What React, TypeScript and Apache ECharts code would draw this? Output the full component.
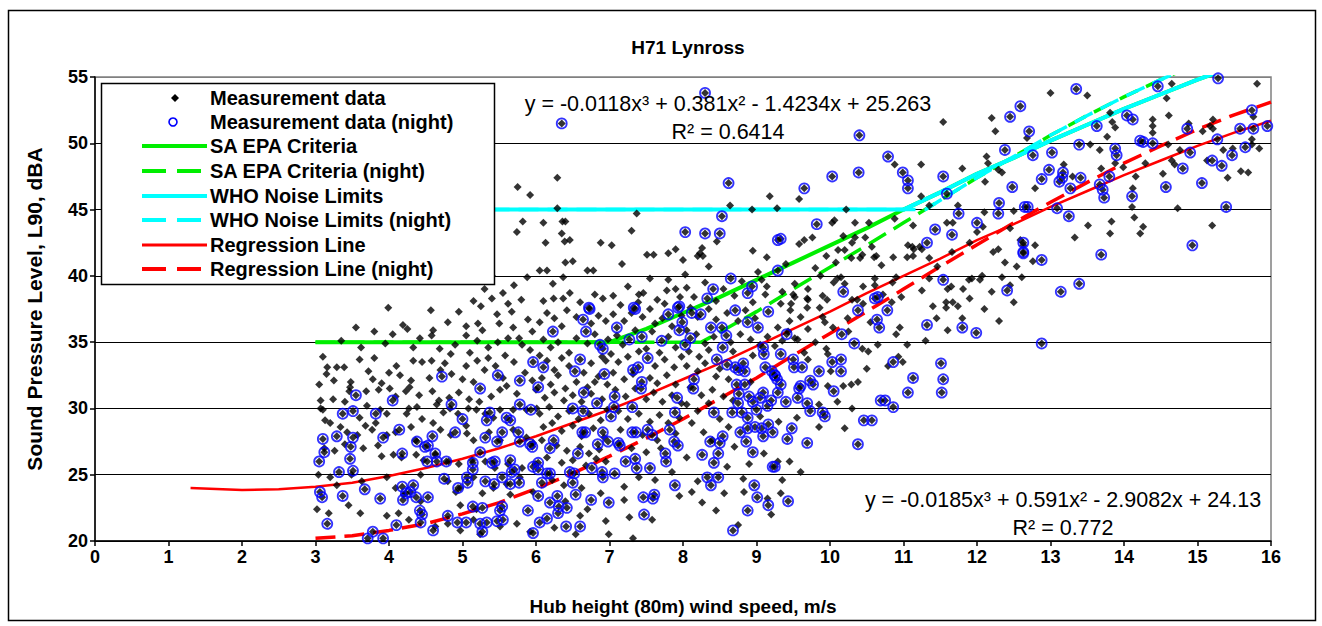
import React, { useEffect, useRef } from "react";
import * as echarts from "echarts";

const FONT = '"Liberation Sans", Arial, sans-serif';

const xMin = 0, xMax = 16, xStep = 1;
const yMin = 20, yMax = 55, yStep = 5;

// Night measurement points (blue circles; also plotted as black diamonds)
const nightPts: number[][] = [
  [4.72,32.4],[5.48,32.5],[5.78,32.1],[5.96,33.5],[3.55,31.0],[4.05,30.6],[4.85,30.3],[5.0,29.2],
  [3.51,29.8],[3.37,29.6],[3.82,29.6],[3.10,27.7],[3.29,27.9],[3.51,27.8],[3.48,27.1],[3.12,26.7],[3.05,26.0],
  [3.32,25.2],[3.51,25.3],[3.47,26.2],[3.06,23.7],[3.09,23.3],[3.37,23.4],[3.16,21.3],[4.14,28.4],[3.92,27.8],
  [4.18,26.6],[4.38,27.5],[4.49,27.1],[4.53,27.2],[4.59,27.9],[4.63,26.6],[4.90,28.2],[4.52,26.0],[4.65,26.0],
  [4.78,26.0],[4.75,24.7],[3.67,23.9],[3.88,23.2],[4.18,24.1],[4.33,24.2],[4.23,23.6],[4.19,23.1],[4.37,23.3],
  [4.29,23.7],[4.53,23.3],[4.42,22.3],[4.45,22.0],[4.43,21.4],[4.6,20.8],[4.1,21.2],[3.78,20.7],[3.71,20.2],
  [3.92,20.2],[4.8,21.9],[4.93,21.4],[5.05,21.4],[4.94,24.0],[5.06,24.8],[5.07,24.4],[5.14,25.9],[5.14,25.4],
  [5.24,26.7],[5.31,27.8],[5.33,29.1],[5.37,29.7],[5.54,28.2],[5.6,29.3],[5.65,29.1],[5.47,27.5],[5.44,26.0],
  [5.65,26.1],[5.71,25.4],[5.67,25.2],[5.4,25.9],[5.31,24.5],[5.43,24.3],[5.54,24.8],[5.65,24.3],[5.77,24.4],
  [5.14,22.6],[5.27,22.5],[5.54,22.6],[5.51,22.3],[5.24,21.3],[5.27,20.7],[5.33,21.4],[5.47,21.5],[5.55,21.6],
  [5.76,28.2],[5.78,27.5],[5.92,27.3],[5.95,27.1],[5.78,30.3],[5.93,29.9],[5.24,31.5],[5.96,25.6],[5.89,22.3],
  [5.96,20.6],[6.35,51.5],[8.3,53.8],
  [8.03,43.3],[8.3,43.2],[8.5,43.2],[8.53,44.5],[8.62,47.0],[9.29,42.7],[8.65,39.8],[8.41,39.0],[8.33,38.3],
  [8.94,39.2],[8.88,38.7],[6.72,37.6],[7.33,37.6],[7.95,37.7],
  [6.73,37.5],[6.64,36.7],[6.68,35.8],[6.23,35.8],[7.1,36.1],[6.87,34.8],[6.91,34.5],[7.35,37.5],[7.27,35.2],
  [7.44,35.4],[7.71,35.1],[7.93,37.6],[8.12,37.2],[8.24,37.1],[7.95,35.9],[7.99,36.5],[7.8,37.1],[8.38,36.1],
  [8.53,36.1],[8.59,35.5],[8.1,35.3],[8.03,34.8],[8.54,34.6],[8.71,37.4],[8.88,36.5],[9.02,36.1],[9.16,37.3],
  [9.09,34.6],[9.1,34.1],[6.6,33.7],[6.1,33.1],[6.53,32.8],[6.93,32.6],[7.52,33.8],[7.32,32.9],[7.39,33.1],
  [8.46,33.7],[8.6,33.3],[8.71,33.1],[8.76,32.9],[8.82,33.4],[8.84,32.8],[9.12,33.1],[9.25,32.5],[9.21,32.8],
  [9.28,32.2],[6.03,31.6],[6.65,31.2],[7.44,32.0],[7.43,31.5],[8.15,32.2],[8.14,31.5],[8.73,31.8],[8.84,31.8],
  [8.76,31.1],[7.92,30.8],[9.09,31.2],[6.5,30.0],[6.64,29.8],[6.83,30.4],[7.07,30.9],[7.06,30.1],[7.02,29.4],
  [7.31,30.1],[7.89,29.7],[8.42,29.7],[8.67,29.7],[8.8,29.7],[8.88,29.3],[8.95,30.5],[9.05,30.8],[9.15,30.2],
  [8.9,30.9],[9.2,30.6],[8.75,30.4],[9.0,29.9],
  [6.63,28.2],[6.67,28.2],[6.91,28.2],[6.24,27.6],[6.19,27.0],[6.84,27.3],[6.98,27.5],[7.12,27.4],[7.14,27.2],
  [7.31,28.2],[7.36,28.2],[7.52,28.4],[7.58,28.0],[7.82,28.4],[7.88,27.5],[7.93,27.2],[6.57,26.6],[7.22,26.0],
  [7.35,26.2],[7.37,25.5],[7.76,26.6],[7.77,26.0],[7.55,25.5],[6.03,25.9],[6.03,25.4],[6.19,25.1],[6.15,25.1],
  [6.46,25.2],[6.52,25.1],[6.76,25.5],[6.9,25.2],[6.91,24.8],[7.07,25.1],[6.08,24.4],[6.5,24.4],[6.29,23.4],
  [6.03,23.4],[6.19,22.9],[6.31,22.6],[6.42,22.5],[6.3,22.1],[6.75,23.1],[6.99,22.9],[6.54,23.5],[7.46,23.3],
  [7.59,23.2],[7.61,23.5],[7.47,22.0],[6.41,21.1],[6.6,21.1],[6.15,21.7],[6.05,21.4],[7.89,24.2],[8.26,26.5],
  [8.37,27.5],[8.5,27.4],[8.54,27.9],[8.48,26.6],[8.42,25.9],[8.33,24.8],[8.38,24.2],[8.48,24.8],[8.78,28.2],
  [8.88,28.5],[8.98,28.6],[9.07,28.5],[9.16,28.8],[9.22,28.2],[8.86,27.5],[8.95,26.7],[9.09,27.9],[9.22,25.6],
  [8.97,24.2],[9.01,23.3],[9.16,22.7],[8.88,22.3],[8.68,20.8],
  [10.79,49.0],[12.38,49.5],[11.54,47.5],[10.99,47.8],[11.06,47.2],[11.06,46.6],[12.48,46.7],[10.03,47.5],
  [10.39,47.8],[9.65,46.6],[11.59,46.2],[12.3,45.5],[12.29,44.7],[11.75,44.7],[12.0,44.0],[12.65,45.2],
  [9.82,43.9],[11.43,43.5],[11.66,43.1],[9.33,42.8],[11.32,42.5],[12.63,42.5],[12.63,41.8],[9.29,40.4],
  [10.4,50.6],[12.45,52.0],
  [10.18,38.8],[10.61,38.3],[10.65,38.4],[10.78,37.4],[10.38,37.4],[10.64,36.7],[10.67,36.1],[9.41,35.6],
  [10.16,35.6],[10.33,34.9],[11.32,36.3],[11.8,36.1],[11.99,35.7],[11.54,39.7],[12.41,38.9],[9.33,34.1],
  [9.5,33.7],[9.51,33.1],[9.62,33.1],[10.03,33.5],[10.15,33.7],[9.85,32.8],[10.15,32.8],[9.73,32.1],[9.77,31.8],
  [10.05,31.3],[9.25,32.5],[9.33,31.8],[9.29,31.2],[9.58,31.5],[9.6,31.7],[9.56,30.8],[9.69,30.4],[9.4,30.5],
  [10.86,33.5],[11.13,32.3],[11.06,31.2],[10.69,30.6],[10.75,30.6],[10.86,30.1],[11.51,33.4],[11.54,32.2],
  [11.52,31.2],
  [9.73,29.8],[9.9,29.7],[9.93,29.4],[10.46,29.1],[10.57,29.1],[9.48,28.5],[9.42,27.7],[9.69,27.4],[10.38,27.3],
  [9.25,25.6],[9.43,23.0],
  [15.28,54.9],[14.46,54.3],[13.35,54.1],[14.04,52.1],[14.12,51.8],[13.63,51.3],[12.71,50.9],[12.59,52.8],
  [13.39,49.9],[14.22,50.2],[14.26,50.1],[14.39,50.0],[14.86,51.1],[15.27,50.3],[15.58,51.1],[15.74,52.5],
  [15.76,51.1],[15.95,51.3],[15.65,49.7],[12.76,49.1],[13.02,49.3],[13.88,49.6],[13.9,49.1],[12.98,48.0],
  [13.17,47.8],[13.16,47.4],[13.12,47.1],[12.88,47.3],[13.41,47.4],[13.27,46.6],[13.8,47.5],[13.67,46.9],
  [13.71,46.5],[13.73,45.9],[14.11,46.0],[14.57,46.7],[14.8,48.1],[14.9,49.3],[15.06,47.0],[15.2,48.7],
  [15.33,48.3],[15.47,49.1],
  [12.69,45.2],[13.09,45.1],[13.25,44.5],[15.39,45.2],[14.93,42.3],[12.63,41.7],[12.88,41.2],[13.69,41.6],
  [13.39,39.4],[13.14,38.8],[12.88,34.9]
];

// Day-only measurement points (black diamonds)
const dayPts: number[][] = [
  [3.99,37.6],[4.57,37.4],[4.19,36.3],[3.62,34.6],[3.10,33.9],[3.16,33.1],[3.29,33.1],[3.39,33.1],[3.6,33.7],
  [3.72,32.8],[4.42,35.3],[4.58,35.5],[4.33,34.6],[4.69,34.5],[4.84,34.1],[4.33,33.6],[4.45,33.5],[4.58,33.6],
  [4.76,33.4],[4.1,33.2],[4.0,32.7],[5.25,37.7],[5.40,38.3],[5.47,37.1],[5.62,37.9],[5.67,37.3],[5.50,36.4],
  [5.21,36.4],[5.27,35.9],[5.69,36.1],[5.89,36.7],[5.95,35.8],[5.2,35.1],[5.62,35.3],[5.77,35.3],[5.81,34.8],
  [5.75,46.7],[5.92,46.1],[6.29,47.4],[6.29,45.1],[5.82,44.1],[5.74,43.3],[6.1,44.0],[6.36,44.1],[6.4,44.1],
  [6.35,43.2],[6.13,42.5],[6.39,42.6],[6.46,42.7],[6.05,40.4],[6.15,40.4],[5.88,39.9],[6.23,39.4],[6.4,41.0],
  [6.5,41.1],[6.7,40.4],[6.88,42.5],[7.03,42.3],[7.3,43.4],[7.37,44.7],[7.17,40.9],[7.51,41.6],[5.4,40.0],
  [6.46,38.7],[6.1,38.1],[6.24,38.3],[6.37,38.3],[6.8,38.6],[6.91,38.3],[7.46,38.7],[7.39,38.0],[7.6,41.6],
  [7.8,41.7],[7.9,42.0],[8.0,41.2],[8.03,40.1],[8.26,42.1],[8.23,41.7],[8.2,41.5],[8.27,41.5],[8.35,40.7],
  [8.46,42.6],[8.64,45.3],[8.94,45.0],[9.18,46.0],[9.28,45.1],[8.95,41.9],[9.14,41.4],[9.07,39.7],[9.14,39.2],
  [7.8,39.7],[7.78,38.9],[7.96,38.4],[6.78,40.4],[6.37,39.9],
  [10.88,48.4],[11.24,48.4],[11.8,48.1],[12.13,49.0],[12.15,48.5],[12.29,48.0],[12.34,47.8],[12.11,47.1],
  [9.58,45.8],[11.24,46.0],[10.22,45.0],[11.35,45.3],[11.74,45.3],[12.08,43.7],[10.03,44.0],[10.06,44.2],
  [10.34,44.0],[10.53,44.0],[10.88,44.3],[11.13,43.8],[11.59,44.0],[11.67,44.0],[9.58,42.4],[9.65,42.7],
  [9.76,42.9],[10.18,43.0],[10.34,42.9],[10.48,42.9],[10.3,42.5],[10.11,41.95],[10.2,41.95],[10.29,41.35],
  [10.41,41.35],[10.44,41.6],[10.08,41.0],[10.57,42.2],[10.6,41.4],[10.63,41.5],[10.86,41.4],[11.06,42.3],
  [11.12,42.2],[11.14,42.0],[11.25,42.0],[11.22,42.2],[11.05,41.4],[11.13,41.5],[11.35,41.35],[11.46,40.7],
  [11.66,41.8],[12.22,41.8],[12.29,42.0],[12.38,41.0],[12.54,40.7],[12.07,40.0],[11.93,39.8],[10.9,39.9],
  [11.35,39.8],[10.15,39.9],[9.87,40.0],
  [9.52,39.4],[10.05,39.5],[10.2,39.4],[10.1,39.8],[10.61,39.8],[10.61,39.3],[9.5,38.6],[9.52,38.4],[9.69,38.3],
  [9.7,38.2],[9.9,38.5],[9.96,38.2],[9.33,37.9],[9.47,37.9],[9.46,37.4],[9.69,37.6],[9.86,37.6],[10.3,38.2],
  [10.45,37.9],[10.37,38.2],[10.72,38.6],[10.84,38.0],[10.97,38.4],[10.24,36.8],[10.95,36.1],[9.93,36.5],
  [10.04,36.1],[9.7,36.0],[9.29,36.1],[9.43,35.8],[9.52,35.3],[9.56,35.2],[10.44,34.5],[10.52,34.3],[11.4,37.7],
  [11.58,37.6],[11.67,38.0],[11.58,38.0],[11.74,37.7],[11.65,39.2],[11.6,39.0],[11.81,39.0],[11.89,39.7],
  [12.04,39.7],[12.34,39.9],[9.65,34.2],[9.7,33.7],[9.97,34.1],[10.01,32.8],[9.97,31.7],[10.18,31.7],
  [10.29,31.8],[10.38,32.0],[10.79,33.2],[10.93,33.9],[10.99,33.5],[9.29,26.0],[9.33,23.6],
  [15.81,54.5],[14.65,54.5],[13.0,53.8],[13.5,53.6],[14.58,53.4],[13.81,52.3],[13.84,51.6],[13.88,51.2],
  [13.77,50.5],[14.61,52.1],[14.39,51.8],[14.39,51.3],[14.39,50.8],[12.68,50.4],[13.54,49.9],[14.6,49.9],
  [14.88,51.5],[15.07,50.9],[15.21,51.8],[15.17,51.3],[15.21,51.1],[15.76,52.0],[15.74,50.3],[15.74,49.9],
  [15.84,49.6],[13.67,49.5],[13.88,48.5],[13.99,48.2],[13.69,48.1],[12.79,46.6],[13.18,48.4],[13.3,47.5],
  [14.16,47.5],[14.12,46.6],[14.29,48.5],[14.53,47.7],[14.65,48.7],[14.69,48.4],[14.76,49.5],[15.13,48.7],
  [15.35,49.5],[15.41,47.4],[15.59,47.9],[15.69,47.8],[15.48,49.6],
  [14.11,45.2],[14.14,44.4],[14.73,45.1],[13.51,43.8],[13.83,44.1],[13.81,43.2],[13.33,42.9],[14.26,43.7],
  [14.22,43.2],[15.2,43.8],[12.59,42.7],[12.63,42.3],[12.79,42.3],[12.76,41.1],[12.61,39.9],
  [11.54,51.6],[12.2,51.9],[12.25,50.9],
  [3.07,30.6],[3.24,30.7],[3.46,31.3],[3.47,31.6],[3.69,31.3],[3.86,31.4],[4.01,31.5],[4.09,30.9],[4.23,31.3],
  [4.28,31.6],[4.41,31.0],[4.59,31.3],[4.68,30.6],[4.82,30.8],[4.95,31.2],[5.09,30.7],[5.23,30.5],[5.39,30.9],
  [5.51,31.4],[5.6,31.7],[5.74,31.1],[6.0,31.4],
  [3.07,30.0],[3.1,29.9],[3.7,30.2],[3.88,29.9],[3.97,29.6],[4.24,29.6],[4.27,30.0],[4.38,30.1],[4.65,30.3],
  [4.74,29.7],[4.83,30.0],[4.94,29.6],[5.08,30.0],[5.19,29.9],[5.31,29.6],[5.51,29.9],[5.69,29.9],[5.87,29.9],
  [6.01,30.0],
  [3.13,29.1],[3.2,28.9],[3.34,28.6],[3.43,28.2],[3.57,28.0],[3.68,28.7],[3.77,28.4],[3.97,28.0],[4.09,28.2],
  [4.3,28.6],[4.36,27.6],[4.7,28.4],[4.84,28.0],[5.06,28.1],[5.15,27.6],[5.36,28.2],[5.51,27.6],[5.69,28.4],
  [5.87,27.8],[5.96,27.4],
  [3.12,27.0],[3.26,26.8],[3.4,27.3],[3.65,27.0],[3.85,27.2],[3.9,26.4],[4.06,26.5],[4.17,26.3],[4.37,26.5],
  [4.47,26.1],[4.63,26.5],[4.81,26.0],[4.95,25.8],[5.13,26.1],[5.31,26.0],[5.44,25.5],[5.62,25.8],[5.81,25.5],
  [5.99,25.8],
  [3.04,25.0],[3.2,24.8],[3.29,24.2],[3.49,25.0],[3.63,24.5],[3.97,24.8],[4.09,24.0],[4.2,23.5],[4.43,25.0],
  [4.8,24.5],[4.91,23.7],[4.97,24.0],[5.15,24.8],[5.27,23.6],[5.42,24.0],[5.6,24.3],[5.78,24.8],[5.96,23.7],
  [5.65,23.5],
  [3.02,22.4],[3.18,22.1],[3.45,22.7],[3.61,22.1],[3.97,21.9],[4.13,22.1],[4.27,21.6],[4.63,21.1],[4.8,21.3],
  [4.97,20.8],[5.15,21.6],[5.24,20.5],[5.51,21.1],[5.74,21.3],[5.92,20.7],[5.19,22.4],[4.97,22.7],[4.43,23.0],
  [3.48,32.0],[3.78,32.2],[3.9,31.9],[4.15,32.5],[4.3,32.1],[4.55,32.3],[4.85,32.6],[5.0,32.2],[5.05,33.2],
  [5.15,32.0],[5.3,32.9],[5.35,33.8],[5.45,33.2],[5.55,32.3],[5.7,33.5],[5.85,32.7],[5.95,32.1],[3.25,32.1],
  [3.05,31.8],[4.9,34.8],[5.05,35.5],[5.1,34.2],[5.35,34.6],[5.48,35.0],[5.58,34.0],[5.92,34.4],[3.8,33.8],
  [3.95,34.9],[4.05,35.6],[4.25,36.0],[3.35,35.1],[3.55,36.1],[4.8,36.5],[4.95,37.3],[4.6,35.9],[5.05,36.2],
  [3.8,35.8],[3.15,32.6],[4.7,32.9],[5.2,33.6],[3.4,30.5],[3.6,29.3],[3.82,28.9],[4.45,29.2],[4.6,28.9],
  [5.42,29.3],[5.05,28.7],[5.3,39.0],[5.55,38.7],[5.8,38.2],[5.15,38.1],[5.7,39.3],
  [6.05,36.5],[6.15,37.2],[6.25,36.8],[6.35,36.2],[6.42,37.4],[6.55,36.9],[6.6,38.0],[6.75,36.4],[6.85,37.0],
  [6.95,36.6],[6.1,35.2],[6.2,34.6],[6.3,35.0],[6.45,34.2],[6.55,35.3],[6.7,34.9],[6.8,35.6],[6.9,33.9],
  [6.98,35.2],[6.05,34.0],[6.15,33.6],[6.25,32.9],[6.35,33.8],[6.45,33.2],[6.65,32.7],[6.75,33.4],[6.85,32.4],
  [6.95,33.6],[6.08,32.3],[6.2,31.8],[6.3,32.5],[6.4,31.5],[6.55,32.0],[6.7,31.6],[6.8,32.0],[6.97,31.8],
  [6.12,30.8],[6.25,31.2],[6.38,30.6],[6.5,31.0],[6.62,30.5],[6.75,31.1],[6.9,30.7],[6.05,29.6],[6.18,30.1],
  [6.3,29.4],[6.45,29.8],[6.58,29.2],[6.72,29.6],[6.88,29.1],[6.97,29.9],[6.1,28.6],[6.22,28.9],[6.35,28.3],
  [6.5,28.7],[6.62,27.9],[6.78,28.5],[6.93,27.8],[6.08,27.6],[6.28,27.2],[6.42,26.8],[6.6,27.1],[6.72,26.6],
  [6.86,26.9],[6.15,26.3],[6.35,25.9],[6.5,26.1],[6.68,25.7],[6.82,26.2],[6.95,26.0],[6.22,24.6],[6.38,24.2],
  [6.62,24.0],[6.88,23.6],[6.4,23.0],[6.7,22.4],[6.54,20.5],[6.99,20.5],[6.6,21.9],[6.25,21.0],[6.95,21.5],
  [7.05,38.5],[7.15,37.8],[7.25,39.2],[7.4,38.6],[7.55,39.8],[7.65,38.2],[7.75,37.9],[7.9,39.0],[7.05,37.1],
  [7.2,36.6],[7.3,37.2],[7.45,36.9],[7.55,37.5],[7.62,36.4],[7.72,36.8],[7.85,36.2],[7.98,37.0],[7.1,35.5],
  [7.18,34.8],[7.35,35.9],[7.5,34.5],[7.58,35.8],[7.68,34.2],[7.8,35.4],[7.9,34.6],[7.02,34.1],[7.12,33.5],
  [7.25,33.9],[7.4,34.3],[7.62,33.2],[7.75,33.7],[7.88,33.1],[7.98,33.9],[7.05,32.7],[7.2,32.2],[7.32,32.6],
  [7.55,32.3],[7.65,31.9],[7.78,32.5],[7.9,31.8],[7.08,31.4],[7.22,30.9],[7.35,31.5],[7.5,30.7],[7.6,31.2],
  [7.72,30.5],[7.85,31.0],[7.98,30.4],[7.12,29.8],[7.25,29.2],[7.4,29.6],[7.55,29.0],[7.68,29.5],[7.8,28.9],
  [7.95,29.3],[7.15,28.4],[7.45,28.0],[7.65,27.6],[7.9,28.1],[7.3,27.0],[7.5,26.7],[7.7,27.0],[7.27,21.8],
  [7.2,23.1],[7.2,24.1],[7.32,20.2],[7.58,21.6],[7.4,24.8],[7.85,25.2],[7.62,24.6],[7.95,23.4],
  [8.05,39.1],[8.15,38.4],[8.3,39.5],[8.45,38.1],[8.55,39.0],[8.7,38.5],[8.8,39.6],[8.95,38.0],[8.1,37.6],
  [8.2,36.9],[8.35,37.5],[8.45,36.7],[8.6,37.2],[8.75,36.6],[8.85,37.4],[8.98,36.8],[8.05,35.9],[8.18,35.6],
  [8.3,34.9],[8.42,35.4],[8.65,35.0],[8.78,35.6],[8.92,35.2],[8.08,34.3],[8.22,33.9],[8.35,34.4],[8.5,33.0],
  [8.68,34.3],[8.95,34.0],[8.05,33.2],[8.2,32.8],[8.3,33.4],[8.45,32.4],[8.62,32.2],[8.92,32.0],[8.1,31.6],
  [8.25,31.0],[8.4,31.4],[8.55,30.9],[8.68,30.6],[8.05,30.3],[8.2,29.8],[8.35,30.4],[8.5,29.2],[8.62,28.6],
  [8.12,28.9],[8.28,28.2],[8.4,27.6],[8.7,27.1],[8.12,23.7],[8.26,22.9],[8.2,24.5],[8.56,23.6],[8.82,24.7],
  [8.83,23.7],[9.2,22.0],[8.75,21.2],[8.45,22.3],[8.05,26.3],[8.6,25.6],[8.9,25.8],
  [9.05,34.8],[9.15,35.4],[9.25,34.7],[9.35,35.1],[9.45,36.6],[9.6,36.9],[9.8,35.0],[9.95,34.5],[9.05,29.4],
  [9.3,29.0],[9.55,29.3],[9.85,28.6],[9.1,26.6],[9.45,26.0],[9.6,25.2],[9.35,24.6],[9.15,23.2],[9.85,30.3],
  [9.9,36.9],[9.7,39.0],[9.35,38.8],[9.12,38.6],[9.02,40.3],[9.4,40.9],[9.8,40.6],[9.95,41.5],
  [10.1,30.5],[10.3,30.0],[10.5,33.0],[10.65,34.8],[10.9,35.6],[10.25,35.8],[10.55,36.5],[10.2,28.5],
  [10.7,40.8],[10.45,39.2],[10.85,39.5],
  [11.05,34.8],[11.3,35.1],[11.6,35.9],[11.8,36.8],[12.1,37.5],[12.3,36.6],[12.5,38.0],[11.45,36.8],[11.9,38.3],
  [12.2,38.8],[11.25,38.9],[12.45,39.3],[12.0,43.3],[12.45,43.6],[11.9,42.5],[12.1,44.8],[12.5,44.9]
];

// Curves
const regX = [1.3, 2, 2.5, 3, 3.5, 4, 4.5, 5, 5.5, 6, 6.5, 7, 7.5, 8, 8.5, 9, 9.5, 10, 10.5, 11, 11.5, 12, 12.5, 13, 13.5, 14, 14.5, 15, 15.5, 16];
const regY = [24.0, 23.85, 23.9, 24.1, 24.4, 24.9, 25.5, 26.2, 27.0, 27.9, 28.9, 29.9, 31.0, 32.2, 33.4, 34.7, 36.0, 37.3, 38.7, 40.0, 41.3, 42.7, 43.9, 45.2, 46.4, 47.6, 48.7, 49.8, 50.8, 51.7];
const regNX = [3, 3.5, 4, 4.5, 5, 5.5, 6, 6.5, 7, 7.5, 8, 8.5, 9, 9.5, 10, 10.5, 11, 11.5, 12, 12.5, 13, 13.5, 14, 14.5, 15, 15.5, 16];
const regNY = [20.2, 20.4, 20.8, 21.3, 22.05, 22.9, 23.95, 25.1, 26.4, 27.75, 29.2, 30.75, 32.3, 34.0, 35.65, 37.3, 39.0, 40.7, 42.35, 44.0, 45.55, 47.05, 48.5, 49.8, 51.05, 52.15, 53.1];
const epaX = [3, 7.0, 7.5, 8, 8.5, 9, 9.5, 10, 10.5, 11, 11.5, 12, 12.5, 13, 13.5, 14, 14.5, 15, 15.5, 16];
const epaY = [35, 35, 36.0, 37.2, 38.4, 39.7, 41.0, 42.3, 43.6, 45.0, 46.3, 47.7, 48.9, 50.2, 51.4, 52.6, 53.7, 54.8, 55.8, 56.7];
const epaNX = [3, 8.25, 8.5, 9, 9.5, 10, 10.5, 11, 11.5, 12, 12.5, 13, 13.5, 14, 14.5, 15];
const epaNY = [35, 35, 35.75, 37.3, 39.0, 40.65, 42.3, 44.0, 45.7, 47.4, 49.0, 50.6, 52.1, 53.5, 54.8, 56.0];
const whoX = [3, 11, 11.5, 12, 12.5, 13, 13.5, 14, 14.5, 15, 15.5, 16];
const whoY = [45, 45, 46.3, 47.7, 48.9, 50.2, 51.4, 52.6, 53.7, 54.8, 55.8, 56.7];
const whoNX = [3, 11.3, 11.5, 12, 12.5, 13, 13.5, 14, 14.5, 15];
const whoNY = [45, 45, 45.7, 47.4, 49.0, 50.6, 52.1, 53.5, 54.8, 56.0];

const seriesNames = [
  "Measurement data",
  "Measurement data (night)",
  "SA EPA Criteria",
  "SA EPA Criteria (night)",
  "WHO Noise Limits",
  "WHO Noise Limits (night)",
  "Regression Line",
  "Regression Line (night)"
];

const eqDay = "y = -0.0118x\u00B3 + 0.381x\u00B2 - 1.4234x + 25.263";
const r2Day = "R\u00B2 = 0.6414";
const eqNight = "y = -0.0185x\u00B3 + 0.591x\u00B2 - 2.9082x + 24.13";
const r2Night = "R\u00B2 = 0.772";

const GREEN = "#00ee00";
const CYAN = "#00ffff";
const RED = "#ff0000";
const BLUE = "#0000ff";

const zip = (xs: number[], ys: number[]) => xs.map((x, i) => [x, ys[i]]);

function buildOption() {
  const lineSeries = (name: string, data: number[][], color: string, width: number, dashed: boolean) => ({
    name,
    type: "line",
    data,
    showSymbol: false,
    symbol: "none",
    z: 2,
    clip: true,
    lineStyle: { color, width, type: dashed ? [20, 9] : "solid" },
    itemStyle: { color }
  });

  const legendRows = [98, 122, 146, 171, 196, 220, 245, 269];
  const legendLine = (i: number, color: string, width: number, dashed: boolean) => ({
    type: "line",
    shape: { x1: 142, y1: legendRows[i], x2: 207, y2: legendRows[i] },
    style: { stroke: color, lineWidth: width, lineDash: dashed ? [24, 11] : null },
    z: 100
  });
  const legendText = (i: number) => ({
    type: "text",
    x: 210,
    y: legendRows[i],
    style: {
      text: seriesNames[i],
      fill: "#000",
      font: `bold 20px ${FONT}`,
      align: "left",
      verticalAlign: "middle"
    },
    z: 100
  });
  const eqText = (text: string, x: number, y: number) => ({
    type: "text",
    x,
    y,
    style: { text, fill: "#000", font: `21.5px ${FONT}`, align: "center", verticalAlign: "middle" },
    z: 50
  });

  return {
    animation: false,
    backgroundColor: "#ffffff",
    title: {
      text: "H71 Lynross",
      left: 683,
      textAlign: "center",
      top: 33,
      textStyle: { fontFamily: FONT, fontWeight: "bold", fontSize: 19, color: "#000" }
    },
    grid: {
      left: 95,
      right: 51,
      top: 77,
      bottom: 85,
      show: true,
      borderColor: "#808080",
      borderWidth: 1.5,
      backgroundColor: "transparent"
    },
    xAxis: {
      type: "value",
      min: xMin,
      max: xMax,
      interval: xStep,
      name: "Hub height (80m) wind speed, m/s",
      nameLocation: "middle",
      nameGap: 56,
      nameTextStyle: { fontFamily: FONT, fontWeight: "bold", fontSize: 19, color: "#000" },
      axisLine: { show: true, onZero: false, lineStyle: { color: "#000", width: 1.5 } },
      axisTick: { show: true, inside: false, length: 5, lineStyle: { color: "#000", width: 1.5 } },
      axisLabel: { fontFamily: FONT, fontWeight: "bold", fontSize: 18, color: "#000", margin: 7 },
      splitLine: { show: false }
    },
    yAxis: {
      type: "value",
      min: yMin,
      max: yMax,
      interval: yStep,
      name: "Sound Pressure Level, L90, dBA",
      nameLocation: "middle",
      nameGap: 50,
      nameRotate: 90,
      nameTextStyle: { fontFamily: FONT, fontWeight: "bold", fontSize: 21, color: "#000" },
      axisLine: { show: true, onZero: false, lineStyle: { color: "#000", width: 1.5 } },
      axisTick: { show: true, inside: false, length: 5, lineStyle: { color: "#000", width: 1.5 } },
      axisLabel: { fontFamily: FONT, fontWeight: "bold", fontSize: 18, color: "#000", margin: 7 },
      splitLine: {
        show: true,
        lineStyle: { color: ["#000", "#000", "#000", "#000", "#000", "#000", "#000", "#808080"], width: 1.2 }
      }
    },
    series: [
      lineSeries(seriesNames[2], zip(epaX, epaY), GREEN, 4, false),
      lineSeries(seriesNames[3], zip(epaNX, epaNY), GREEN, 3.5, true),
      lineSeries(seriesNames[4], zip(whoX, whoY), CYAN, 4, false),
      lineSeries(seriesNames[5], zip(whoNX, whoNY), CYAN, 3.5, true),
      lineSeries(seriesNames[6], zip(regX, regY), RED, 2.5, false),
      lineSeries(seriesNames[7], zip(regNX, regNY), RED, 3.5, true),
      {
        name: seriesNames[0],
        type: "scatter",
        data: dayPts.concat(nightPts),
        symbol: "diamond",
        symbolSize: 8,
        z: 3,
        itemStyle: { color: "#000" }
      },
      {
        name: seriesNames[1],
        type: "scatter",
        data: nightPts,
        symbol: "circle",
        symbolSize: 10,
        z: 4,
        itemStyle: { color: "rgba(0,0,0,0)", borderColor: BLUE, borderWidth: 1.8 }
      }
    ],
    graphic: [
      {
        type: "rect",
        shape: { x: 8.5, y: 10.5, width: 1307, height: 610 },
        style: { fill: "none", stroke: "#000", lineWidth: 1.5 },
        z: 0,
        silent: true
      },
      {
        type: "rect",
        shape: { x: 101.5, y: 83.5, width: 393, height: 201 },
        style: { fill: "#fff", stroke: "#000", lineWidth: 1.5 },
        z: 99
      },
      {
        type: "polygon",
        shape: { points: [[175, 94], [179, 98], [175, 102], [171, 98]] },
        style: { fill: "#000" },
        z: 100
      },
      {
        type: "circle",
        shape: { cx: 173, cy: 122, r: 4 },
        style: { fill: "none", stroke: BLUE, lineWidth: 1.6 },
        z: 100
      },
      legendLine(2, GREEN, 4, false),
      legendLine(3, GREEN, 4, true),
      legendLine(4, CYAN, 4, false),
      legendLine(5, CYAN, 4, true),
      legendLine(6, RED, 3, false),
      legendLine(7, RED, 4, true),
      ...[0, 1, 2, 3, 4, 5, 6, 7].map(legendText),
      eqText(eqDay, 728, 104),
      eqText(r2Day, 728, 132),
      eqText(eqNight, 1063, 500),
      eqText(r2Night, 1063, 528)
    ]
  };
}

export default function App() {
  const ref = useRef<HTMLDivElement>(null);
  useEffect(() => {
    if (!ref.current) return;
    const chart = echarts.init(ref.current, null, { renderer: "svg" });
    chart.setOption(buildOption() as any);
    return () => chart.dispose();
  }, []);
  return (
    <div
      ref={ref}
      style={{ position: "fixed", left: 0, top: 0, width: 1322, height: 626, background: "#fff" }}
    />
  );
}
